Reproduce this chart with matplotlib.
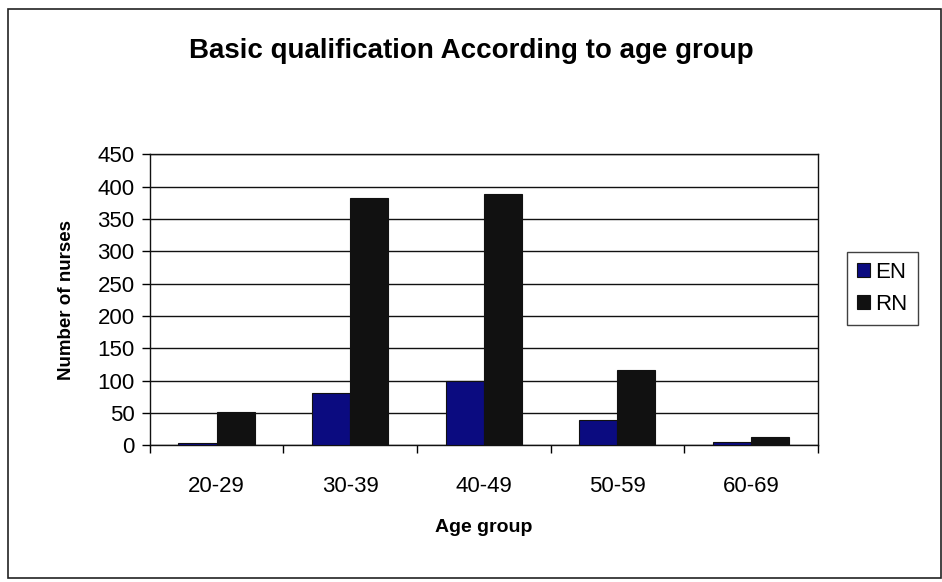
import numpy as np
import matplotlib.pyplot as plt
from matplotlib.patches import Rectangle

plt.rcParams['font.family'] = ['Liberation Sans', 'DejaVu Sans']

age_groups = ["20-29", "30-39", "40-49", "50-59", "60-69"]
en_counts = [4, 80, 100, 39, 5]
rn_counts = [52, 383, 389, 116, 12]
y_ticks = [0, 50, 100, 150, 200, 250, 300, 350, 400, 450]

fig = plt.figure(figsize=(9.42, 5.82), dpi=100)
ax = fig.add_axes([0.159, 0.235, 0.709, 0.500])

x = np.arange(len(age_groups))
w = 0.285
ax.bar(x - w / 2, en_counts, width=w, color='#0b0b80', edgecolor='#111111',
       linewidth=0.8, label='EN', zorder=3)
ax.bar(x + w / 2, rn_counts, width=w, color='#111111', edgecolor='#111111',
       linewidth=0.8, label='RN', zorder=3)

ax.set_xlim(-0.5, len(age_groups) - 0.5)
ax.set_ylim(0, 450)
ax.set_yticks(y_ticks)
ax.tick_params(axis='y', labelsize=16, length=6, width=1, pad=5)
ax.yaxis.grid(True, color='#111111', linewidth=1, zorder=0)

# category labels centred, tick marks between categories
ax.set_xticks(x)
ax.set_xticklabels(age_groups, fontsize=16)
ax.tick_params(axis='x', length=0, pad=22)
ax.set_xticks(np.arange(-0.5, len(age_groups)), minor=True)
ax.tick_params(axis='x', which='minor', length=6, width=1, direction='out')

for s in ax.spines.values():
    s.set_color('#111111')
    s.set_linewidth(1)

ax.set_xlabel("Age group", fontsize=14, fontweight='bold', labelpad=16)
ax.set_ylabel("Number of nurses", fontsize=13.5, fontweight='bold', labelpad=16)

fig.text(0.5, 0.913, "Basic qualification According to age group",
         ha='center', va='center', fontsize=20, fontweight='bold')

leg = fig.legend(loc='upper left', bbox_to_anchor=(0.887, 0.586), fontsize=16,
                 frameon=True, fancybox=False, edgecolor='#111111',
                 handlelength=0.6, handleheight=0.6, handletextpad=0.25,
                 borderpad=0.45, labelspacing=0.5)
leg.get_frame().set_linewidth(1)

# outer chart border
fig.add_artist(Rectangle((0.009, 0.007), 0.99, 0.978, transform=fig.transFigure,
                         fill=False, edgecolor='#222222', linewidth=1.2))

fig.savefig("out.png", dpi=100)
